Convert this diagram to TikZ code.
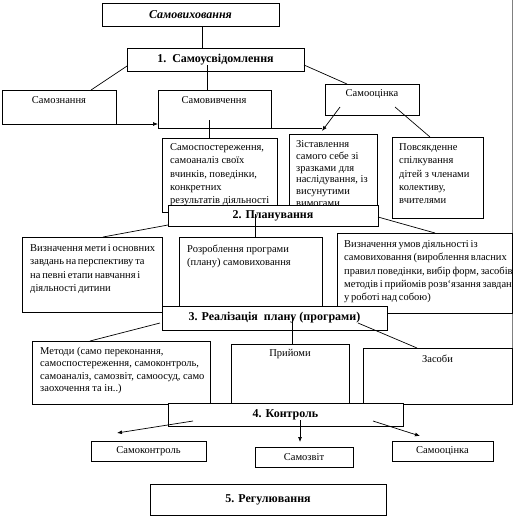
\documentclass[tikz,border=0pt]{standalone}
\usepackage{fontspec}
\setmainfont{Liberation Serif}
\usetikzlibrary{arrows.meta}
\newcommand\smallfnt{\fontsize{10.5}{13.3}\selectfont}
\newcommand\tightsp{\spaceskip=1.8pt plus 1pt\relax}
\newcommand\headfnt{\fontsize{12}{14}\selectfont\bfseries}
\tikzset{
  box/.style={draw=black, line width=0.8pt, fill=white, inner sep=0pt, outer sep=0pt, anchor=north west},
  hbox/.style={box, font=\headfnt},
  txt/.style={inner sep=0pt, anchor=north west, align=left, font=\smallfnt},
  lbl/.style={inner sep=0pt, anchor=center, font=\smallfnt},
  conn/.style={draw=black, line width=0.7pt},
  arr/.style={conn, -{Latex[length=5pt,width=4pt]}},
}
\newcommand\mybox[6][box]{\node[#1, minimum width=#5pt, minimum height=#6pt] (#2) at (#3,#4) {};}
\begin{document}
\begin{tikzpicture}[x=1pt,y=-1pt]
\useasboundingbox (0,0) rectangle (513,520);
\clip (0,0) rectangle (513,520);
\fill[white] (0,0) rectangle (513,520);
% page edge line
\coordinate (pe1) at (512,0);
\coordinate (pe2) at (512,405);
\draw[gray, line width=0.8pt] (pe1) -- (pe2);

% title and level 1
\node[hbox, minimum width=177pt, minimum height=23pt, font=\headfnt\itshape] (t0) at (102,3) {Самовиховання};
\node[hbox, minimum width=177pt, minimum height=23pt] (h1) at (127,48) {1.\ \ Самоусвідомлення};

\mybox{bzn}{2}{90}{114}{34}
\node[lbl] (tzn) at (59,100) {Самознання};
\mybox{bvy}{158}{90}{113}{38}
\node[lbl] (tvy) at (214,100) {Самовивчення};
\mybox{bot}{325}{84}{94}{31}
\node[lbl] (tot) at (372,94.5) {Самооцінка};

\mybox{bsp}{162}{138}{115}{74}
\node[txt] (tsp) at (170,143.5) {Самоспостереження,\\самоаналіз своїх\\вчинків, поведінки,\\конкретних\\результатів діяльності};
\mybox{bzi}{289}{134}{88}{85}
\node[txt, font=\fontsize{10.5}{11.7}\selectfont] (tzi) at (296,140.5) {Зіставлення\\самого себе зі\\зразками для\\наслідування, із\\висунутими\\вимогами};
\mybox{bpo}{392}{137}{91}{81}
\node[txt] (tpo) at (399,143.5) {Повсякденне\\спілкування\\дітей з членами\\колективу,\\вчителями};

\node[hbox, minimum width=210pt, minimum height=21pt] (h2) at (168,205) {2. Планування};

\mybox{bme}{22}{237}{140}{75}
\node[txt, font=\smallfnt\tightsp] (tme) at (30,244.5) {Визначення мети і основних\\завдань на перспективу та\\на певні етапи навчання і\\діяльності дитини};
\mybox{bro}{179}{237}{143}{69}
\node[txt] (tro) at (187,244.5) {Розроблення програми\\(плану) самовиховання};
\mybox{bum}{337}{233}{175}{80}
\node[txt, font=\smallfnt\tightsp] (tum) at (344,240.5) {Визначення умов діяльності із\\самовиховання (вироблення власних\\правил поведінки, вибір форм, засобів\\методів і прийомів розв`язання завдань\\у роботі над собою)};

\node[hbox, minimum width=225pt, minimum height=24pt] (h3) at (162,306) {3. Реалізація\ \ плану (програми)};

\mybox{bmt}{32}{341}{178}{63}
\node[txt, font=\fontsize{10.5}{12.3}\selectfont] (tmt) at (40,347) {Методи (само переконання,\\самоспостереження, самоконтроль,\\самоаналіз, самозвіт, самоосуд, само\\заохочення та ін..)};
\mybox{bpr}{231}{344}{118}{60}
\node[lbl] (tpr) at (290,354.5) {Прийоми};
\mybox{bza}{363}{348}{149}{56}
\node[lbl] (tza) at (437.5,358.5) {Засоби};

\node[hbox, minimum width=235pt, minimum height=23pt] (h4) at (168,403) {4. Контроль};

\node[box, minimum width=115pt, minimum height=20pt, font=\smallfnt] (bsk) at (91,441) {Самоконтроль};
\node[box, minimum width=98pt, minimum height=20pt, font=\smallfnt] (bsz) at (255,447) {Самозвіт};
\node[box, minimum width=101pt, minimum height=20pt, font=\smallfnt] (bso) at (392,441) {Самооцінка};

\node[hbox, minimum width=236pt, minimum height=31pt] (h5) at (150,484) {5. Регулювання};

% connectors
\draw[conn] (t0.south -| h1.center) ++(-13.5,0) coordinate (c0) -- (c0 |- h1.north);
\draw[conn] ([yshift=5pt]h1.south west) -- ([xshift=89pt]bzn.north west);
\draw[conn] ([xshift=80pt,yshift=6pt]h1.south west) -- ([xshift=49pt]bvy.north west);
\draw[conn] ([yshift=6pt]h1.south east) -- ([xshift=22pt]bot.north west);
\draw[arr] (bzn.south east) -- (bvy.west |- bzn.south east);
\coordinate (tip) at (322,131);
\coordinate (hend) at (322,128);
\draw[conn] (bvy.south east) -- (hend);
\draw[arr] ([xshift=15pt,yshift=8pt]bot.south west) -- (tip);
\draw[conn] ([xshift=51pt,yshift=8pt]bvy.south west) -- ([xshift=47pt]bsp.north west);
\draw[conn] ([xshift=70pt,yshift=8pt]bot.south west) -- ([xshift=38pt]bpo.north west);

\draw[conn] ([yshift=1pt]h2.south west) -- ([xshift=81pt]bme.north west);
\draw[conn] ([xshift=87pt,yshift=12pt]h2.south west) -- ([xshift=76pt]bro.north west);
\draw[conn] ([yshift=9pt]h2.south east) -- ([xshift=98pt]bum.north west);

\draw[conn] ([xshift=-2pt,yshift=7pt]h3.south west) -- ([xshift=58pt]bmt.north west);
\draw[conn] ([xshift=130pt,yshift=12pt]h3.south west) -- ([xshift=61pt]bpr.north west);
\draw[conn] ([xshift=-29pt,yshift=7pt]h3.south east) -- ([xshift=54pt]bza.north west);

\draw[arr] ([xshift=25pt,yshift=5pt]h4.south west) -- ([xshift=26pt,yshift=8pt]bsk.north west);
\draw[arr] ([xshift=132pt,yshift=6pt]h4.south west) -- ([xshift=45pt,yshift=5pt]bsz.north west);
\draw[arr] ([xshift=-30pt,yshift=5pt]h4.south east) -- ([xshift=28pt,yshift=5pt]bso.north west);
\end{tikzpicture}
\end{document}
